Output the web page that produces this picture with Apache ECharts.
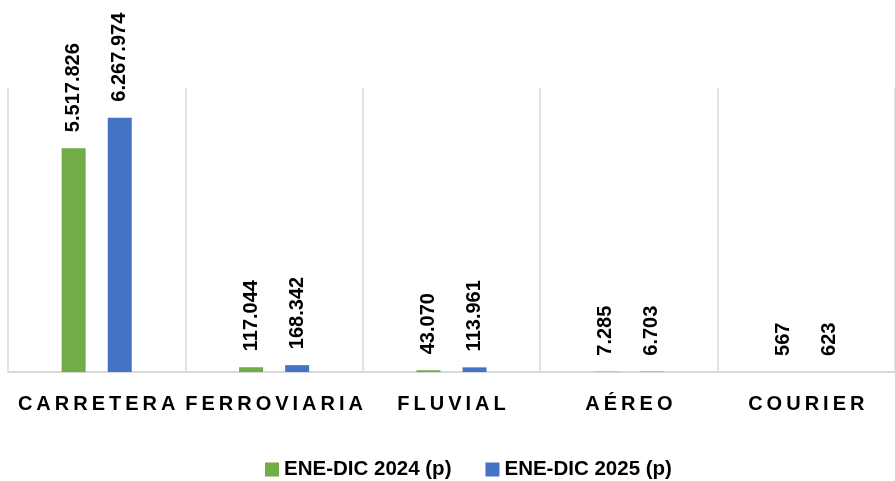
<!DOCTYPE html>
<html>
<head>
<meta charset="utf-8">
<script src="https://cdn.jsdelivr.net/npm/echarts@6/dist/echarts.min.js"></script>
<style>
html,body{margin:0;padding:0;background:#fff;}
#chart{width:895px;height:481px;}
</style>
</head>
<body>
<div id="chart"></div>
<script>
const categories = ['CARRETERA', 'FERROVIARIA', 'FLUVIAL', 'AÉREO', 'COURIER'];
const seriesNames = ['ENE-DIC 2024 (p)', 'ENE-DIC 2025 (p)'];
const values2024 = [5517826, 117044, 43070, 7285, 567];
const values2025 = [6267974, 168342, 113961, 6703, 623];

function fmt(v) {
  return String(v).replace(/\B(?=(\d{3})+(?!\d))/g, '.');
}
function spaced(s) {
  return s.split('').join('\u2009');
}

const chart = echarts.init(document.getElementById('chart'));
const labelStyle = {
  show: true,
  position: 'top',
  distance: 16,
  rotate: 90,
  align: 'left',
  verticalAlign: 'middle',
  fontFamily: '"Liberation Sans", Arial, sans-serif',
  fontWeight: 'bold',
  fontSize: 20,
  color: '#000',
  formatter: p => fmt(p.value)
};
chart.setOption({
  animation: false,
  backgroundColor: '#fff',
  grid: { left: 8, right: -5, top: 88, bottom: 109, containLabel: false },
  legend: {
    left: 260,
    top: 454,
    itemWidth: 14,
    itemHeight: 14,
    itemGap: 34,
    icon: 'rect',
    textStyle: { fontFamily: '"Liberation Sans", Arial, sans-serif', fontWeight: 'bold', fontSize: 20.5, color: '#000' },
    data: seriesNames
  },
  xAxis: {
    type: 'category',
    data: categories,
    axisLine: { show: true, lineStyle: { color: '#d9d9d9', width: 2 } },
    axisTick: { show: false },
    splitLine: { show: true, lineStyle: { color: '#d9d9d9', width: 1.5 } },
    axisLabel: {
      interval: 0,
      margin: 22,
      fontFamily: '"Liberation Sans", Arial, sans-serif',
      fontWeight: 'bold',
      fontSize: 20,
      color: '#000',
      formatter: v => spaced(v)
    }
  },
  yAxis: {
    type: 'value',
    min: 0,
    max: 7000000,
    show: false,
    splitLine: { show: false }
  },
  series: [
    {
      name: seriesNames[0], type: 'bar', data: values2024,
      barWidth: 24, barGap: '92%',
      itemStyle: { color: '#70AD47' },
      label: labelStyle
    },
    {
      name: seriesNames[1], type: 'bar', data: values2025,
      barWidth: 24, barGap: '92%',
      itemStyle: { color: '#4472C4' },
      label: labelStyle
    }
  ]
});
</script>
</body>
</html>
